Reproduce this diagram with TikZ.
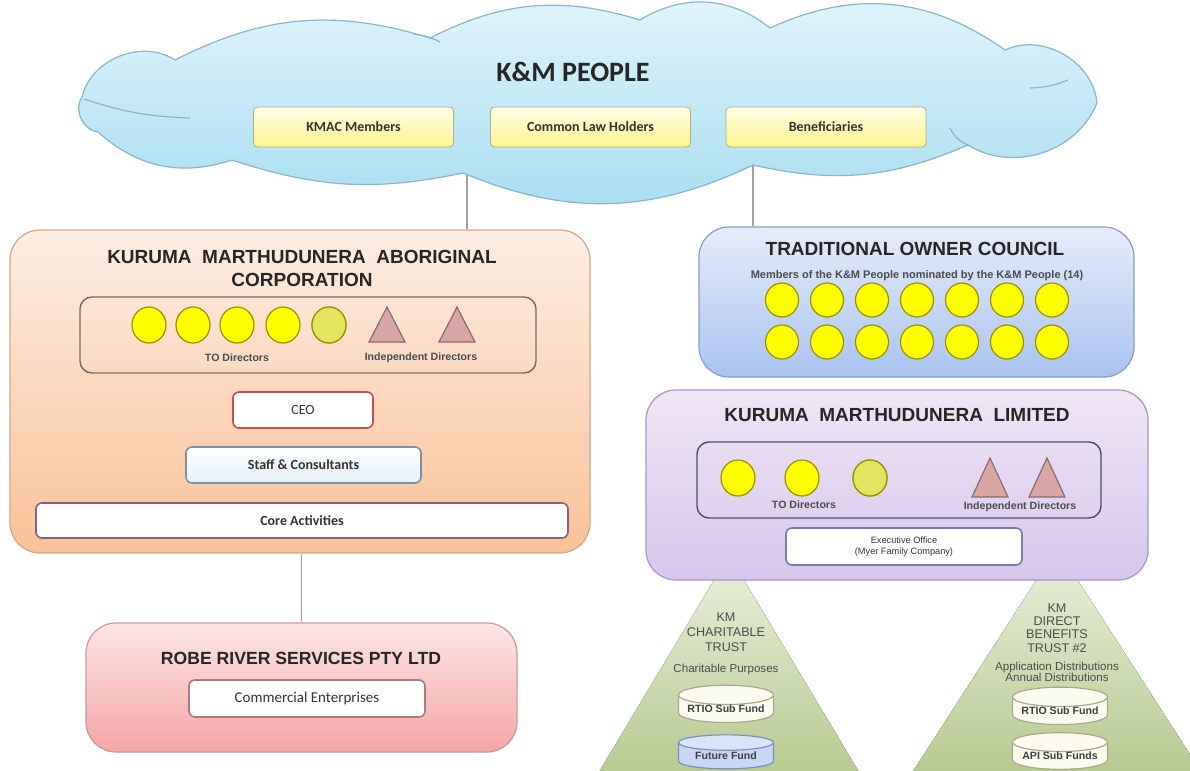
\documentclass[tikz,border=0pt]{standalone}
\usepackage{fontspec}
\setmainfont{Liberation Sans}
\newfontfamily\calibri{Carlito}
\usetikzlibrary{shapes.geometric}

\definecolor{cloudtop}{HTML}{E2F5FC}
\definecolor{cloudbot}{HTML}{A6DDF1}
\definecolor{cloudline}{HTML}{8BB5C7}
\definecolor{ytop}{HTML}{FFFDE3}
\definecolor{ybot}{HTML}{FFF48F}
\definecolor{yline}{HTML}{B5AD8A}
\definecolor{kmactop}{HTML}{FDEEE3}
\definecolor{kmacbot}{HTML}{F9C197}
\definecolor{kmacline}{HTML}{D7A583}
\definecolor{boardline}{HTML}{7A6A62}
\definecolor{memfill}{HTML}{FFFF00}
\definecolor{memlight}{HTML}{E4E45E}
\definecolor{memline}{HTML}{9C8F00}
\definecolor{indfill}{HTML}{D9A5A5}
\definecolor{indline}{HTML}{8A6C6C}
\definecolor{ceoline}{HTML}{C0504D}
\definecolor{staffline}{HTML}{7792A5}
\definecolor{stafffill}{HTML}{E4F0F8}
\definecolor{coreline}{HTML}{7F6380}
\definecolor{toctop}{HTML}{E6ECFA}
\definecolor{tocbot}{HTML}{A9C3EF}
\definecolor{tocline}{HTML}{8C9CC4}
\definecolor{kmltop}{HTML}{EFE6F5}
\definecolor{kmlbot}{HTML}{D7C6EC}
\definecolor{kmlline}{HTML}{A497C2}
\definecolor{kmlboard}{HTML}{4D4D6A}
\definecolor{execline}{HTML}{6F7FA5}
\definecolor{robetop}{HTML}{FDE6E6}
\definecolor{robebot}{HTML}{F4A5A5}
\definecolor{robeline}{HTML}{C89999}
\definecolor{commline}{HTML}{A87C7C}
\definecolor{trusttop}{HTML}{EAF0DC}
\definecolor{trustbot}{HTML}{B2C78A}
\definecolor{fundfill}{HTML}{FBFBF0}
\definecolor{fundline}{HTML}{AAA98A}
\definecolor{futfill}{HTML}{C9D7F7}
\definecolor{futline}{HTML}{7D8FBB}
\definecolor{linkgray}{HTML}{A0A0A0}

\tikzset{
  peoplecloud/.style={draw=cloudline, line width=0.6pt, top color=cloudtop, bottom color=cloudbot},
  peoplebox/.style={draw=yline, rounded corners=2pt, top color=ytop, bottom color=ybot,
    minimum width=100pt, minimum height=20pt, text=black!80,
    font=\calibri\bfseries\fontsize{7}{8}\selectfont},
  bigbox/.style={rounded corners=15pt, line width=0.6pt, inner sep=0pt},
  boardbox/.style={rounded corners=6pt, line width=0.7pt, inner sep=0pt},
  unitbox/.style={rounded corners=3pt, line width=0.8pt, fill=white, text=black!80,
    font=\calibri\bfseries\fontsize{7}{8}\selectfont},
  member/.style={ellipse, draw=memline, fill=memfill, line width=0.6pt,
    minimum width=17pt, minimum height=18pt, inner sep=0pt},
  indep/.style={draw=indline, fill=indfill, line width=0.6pt},
  title/.style={font=\bfseries\fontsize{9.5}{11.5}\selectfont, align=center, text=black!85},
  small/.style={font=\bfseries\fontsize{5.3}{6}\selectfont, text=black!70},
  trust/.style={top color=trusttop, bottom color=trustbot},
  trusttext/.style={font=\fontsize{6.3}{7.4}\selectfont, text=black!70, align=center},
  fund/.style={cylinder, shape border rotate=90, aspect=0.25, draw=fundline, line width=0.6pt,
    cylinder uses custom fill, cylinder body fill=fundfill, cylinder end fill=fundfill,
    minimum width=47.5pt, minimum height=17pt, inner sep=0pt, text=black!75,
    font=\bfseries\fontsize{5.3}{6}\selectfont},
  link/.style={draw=linkgray, line width=0.6pt}
}

\begin{document}
\begin{tikzpicture}[x=0.5pt,y=-0.5pt]
  \useasboundingbox[fill=white] (0,0) rectangle (1190,771);

  % trusts under the limited company
  \begin{scope}
    \clip (0,0) rectangle (1190,771);
    \fill[trust] (729,555) -- (587,792) -- (871,792) -- cycle;
    \fill[trust] (1057,548) -- (901,790) -- (1213,790) -- cycle;
  \end{scope}
  \node[trusttext] (ctrust) at (726,632) {KM\\CHARITABLE\\TRUST};
  \node[trusttext, font=\fontsize{5.8}{7}\selectfont] (cpurp) at (726,669) {Charitable Purposes};
  \node[fund] (rtioa) at (726,709) {RTIO Sub Fund};
  \node[fund, cylinder body fill=futfill, cylinder end fill=futfill!70!white, draw=futline] (future) at (726,756) {Future Fund};
  \node[trusttext, font=\fontsize{6.3}{6.7}\selectfont] (dbtrust) at (1057,628) {KM\\DIRECT\\BENEFITS\\TRUST \#2};
  \node[trusttext, font=\fontsize{5.8}{5.6}\selectfont] (dbdist) at (1057,672) {Application Distributions\\Annual Distributions};
  \node[fund] (rtiob) at (1060,711) {RTIO Sub Fund};
  \node[fund] (api) at (1060,756) {API Sub Funds};

  % KMAC
  \node[bigbox, draw=kmacline, top color=kmactop, bottom color=kmacbot,
    minimum width=290pt, minimum height=161.5pt] (kmac) at (300,391.5) {};
  \node[title] (kmactitle) at (302,268) {KURUMA\ \ MARTHUDUNERA\ \ ABORIGINAL\\CORPORATION};
  \node[boardbox, draw=boardline, minimum width=228pt, minimum height=38pt] (kmacboard) at (308,335) {};
  \foreach \x [count=\i] in {149,193,237,283,329}
    \node[member] (kd\i) at (\x,325) {};
  \node[member, fill=memlight] at (kd5) {};
  \foreach \x in {387,457}
    \draw[indep] (\x,307) -- (\x+18,342) -- (\x-18,342) -- cycle;
  \node[small] (kmacto) at (237,358) {TO Directors};
  \node[small] (kmacind) at (421,358) {Independent Directors};
  \node[unitbox, draw=ceoline, font=\calibri\fontsize{7}{8}\selectfont,
    minimum width=70pt, minimum height=18pt] (ceo) at (303,410) {CEO};
  \node[unitbox, draw=staffline, top color=white, bottom color=stafffill,
    minimum width=117.5pt, minimum height=18pt] (staff) at (303.5,465) {Staff \& Consultants};
  \node[unitbox, draw=coreline, minimum width=266pt, minimum height=17.5pt] (core) at (302,520.5) {Core Activities};

  % Robe River
  \node[bigbox, draw=robeline, top color=robetop, bottom color=robebot,
    minimum width=215.5pt, minimum height=64.5pt] (robe) at (301.5,687.5) {};
  \node[title, font=\bfseries\fontsize{8.8}{10}\selectfont] (robetitle) at (301,658) {ROBE RIVER SERVICES PTY LTD};
  \node[unitbox, draw=commline, font=\calibri\fontsize{7.5}{8}\selectfont,
    minimum width=118pt, minimum height=18.5pt] (comm) at (307,698.5) {Commercial Enterprises};

  % Traditional Owner Council
  \node[bigbox, draw=tocline, top color=toctop, bottom color=tocbot,
    minimum width=217.5pt, minimum height=75pt] (toc) at (916.5,302) {};
  \node[title] (toctitle) at (915,249) {TRADITIONAL\ OWNER\ COUNCIL};
  \node[small, font=\bfseries\fontsize{5.5}{6}\selectfont] (tocsub) at (917,276) {Members of the K\&M People nominated by the K\&M People (14)};
  \foreach \y in {300,342}
    \foreach \i in {0,...,6}
      \node[member, minimum width=16.5pt, minimum height=17pt] at (782+45*\i,\y) {};

  % Kuruma Marthudunera Limited
  \node[bigbox, draw=kmlline, top color=kmltop, bottom color=kmlbot,
    minimum width=251pt, minimum height=95pt] (kml) at (897,485) {};
  \node[title] (kmltitle) at (897,415) {KURUMA\ \ MARTHUDUNERA\ \ LIMITED};
  \node[boardbox, draw=kmlboard, minimum width=202pt, minimum height=38pt] (kmlboard) at (899,480) {};
  \foreach \x [count=\i] in {738,802,870}
    \node[member] (ld\i) at (\x,478) {};
  \node[member, fill=memlight] at (ld3) {};
  \foreach \x in {990,1047}
    \draw[indep] (\x,458) -- (\x+18,497) -- (\x-18,497) -- cycle;
  \node[small] (kmlto) at (804,505) {TO Directors};
  \node[small] (kmlind) at (1020,507) {Independent Directors};
  \node[unitbox, draw=execline, align=center, font=\fontsize{4.6}{5.4}\selectfont,
    minimum width=118pt, minimum height=18.5pt] (exec) at (904,546.5) {Executive Office\\(Myer Family Company)};

  % links
  \coordinate (kmaclink) at (467,150);
  \coordinate (toclink) at (753,150);
  \draw[link] (kmaclink) -- (kmaclink |- kmac.north);
  \draw[link] (toclink) -- (toclink |- toc.north);
  \draw[link] (kmac.south -| robe.north) -- (robe.north);

  % the people
  \draw[peoplecloud] (82,97) to[bend left=55] (175,60) to[bend left=22] (430,38)
    to[bend left=22] (640,20) to[bend left=35] (770,28) to[bend left=30] (1005,50)
    to[bend left=55] (1097,103) to[bend left=50] (968,145) to[bend left=18] (753,165)
    to[bend left=24] (463,173) to[bend left=15] (232,160) to[bend left=30] (98,132)
    to[bend left=60] cycle;
  \draw[cloudline, line width=0.6pt] (84,99) to[bend right=8] (190,118);
  \draw[cloudline, line width=0.6pt] (413,34) to[bend left=10] (440,42);
  \draw[cloudline, line width=0.6pt] (1030,88) to[bend right=10] (1068,80);
  \draw[cloudline, line width=0.6pt] (968,145) to[bend left=20] (950,128);
  \node[font=\calibri\bfseries\fontsize{14}{16}\selectfont, text=black!85] (peopletitle) at (573,72) {K\&M PEOPLE};
  \node[peoplebox] (kmacmem) at (353.5,127) {KMAC Members};
  \node[peoplebox] (common) at (590.5,127) {Common Law Holders};
  \node[peoplebox] (benef) at (826,127) {Beneficiaries};
\end{tikzpicture}
\end{document}
